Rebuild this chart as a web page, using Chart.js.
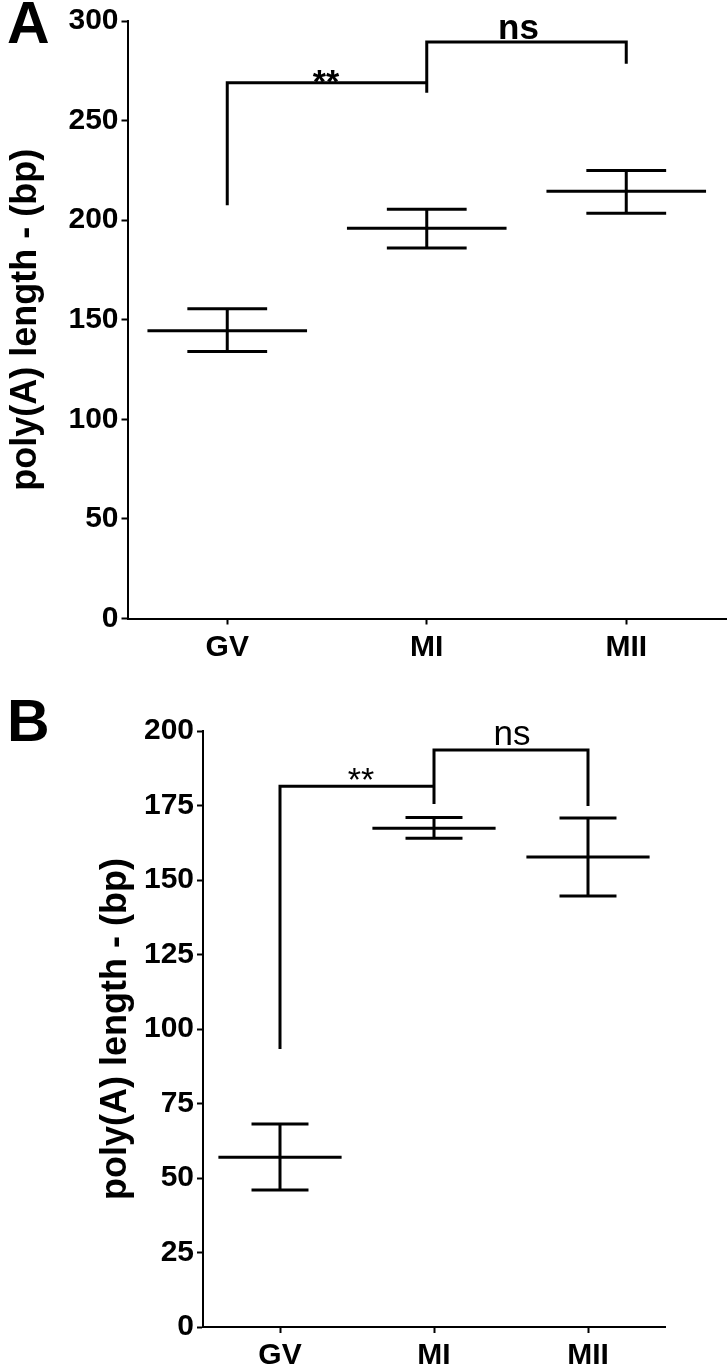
<!DOCTYPE html>
<html>
<head>
<meta charset="utf-8">
<script src="https://cdn.jsdelivr.net/npm/chart.js@4.4.1/dist/chart.umd.min.js"></script>
<style>
  html, body { margin: 0; padding: 0; background: #fff; }
  body { width: 728px; height: 1368px; position: relative; overflow: hidden; }
  canvas { position: absolute; left: 0; }
  .panel { position: absolute; font-family: 'Liberation Sans', Arial, sans-serif; font-weight: bold; font-size: 59px; line-height: 1; color: #000; }
</style>
</head>
<body>
<div class="panel" style="left:7px; top:-6px;">A</div>
<div class="panel" style="left:7px; top:692px;">B</div>
<canvas id="chartA" width="728" height="680" style="top:0px;"></canvas>
<canvas id="chartB" width="728" height="688" style="top:680px;"></canvas>
<script>
// ---------------- data ----------------
const categories = ['GV', 'MI', 'MII'];
const yTitle = 'poly(A) length - (bp)';

// Panel A
const meanA  = [144.5, 196.0, 214.5];
const upperA = [155.5, 205.5, 225.0];
const lowerA = [134.0, 186.0, 203.5];
const yTicksA = { min: 0, max: 300, step: 50 };
// brackets
const bracketFromA  = [0, 1];
const bracketToA    = [1, 2];
const bracketLevelA = [269, 289.5];
const footFromA     = [207.5, 264];
const footToA       = [264, 278.5];
const bracketTextA  = ['**', 'ns'];

// Panel B
const meanB  = [57.0, 167.4, 157.7];
const upperB = [68.1, 171.0, 170.8];
const lowerB = [46.0, 164.0, 144.6];
const yTicksB = { min: 0, max: 200, step: 25 };
const bracketFromB  = [0, 1];
const bracketToB    = [1, 2];
const bracketLevelB = [181.5, 193.6];
const footFromB     = [93.3, 175.5];
const footToB       = [175.5, 174.8];
const bracketTextB  = ['**', 'ns'];

// ---------------- helpers ----------------
const FONT = "'Liberation Sans', Arial, sans-serif";

function hSegments(values, half) {
  const pts = [];
  values.forEach((v, i) => {
    pts.push({ x: i - half, y: v }, { x: i + half, y: v }, { x: i, y: null });
  });
  return pts;
}
function vSegments(lo, hi) {
  const pts = [];
  lo.forEach((v, i) => {
    pts.push({ x: i, y: v }, { x: i, y: hi[i] }, { x: i + 0.5, y: null });
  });
  return pts;
}
function brackets(from, to, level, fa, fb) {
  const pts = [];
  from.forEach((a, k) => {
    const b = to[k];
    pts.push({ x: a, y: fa[k] }, { x: a, y: level[k] }, { x: b, y: level[k] }, { x: b, y: fb[k] }, { x: b + 0.1, y: null });
  });
  return pts;
}
function ds(data, width) {
  return {
    data, showLine: true, borderColor: '#000', backgroundColor: '#000',
    borderWidth: width, pointRadius: 0, pointHoverRadius: 0,
    spanGaps: false, borderCapStyle: 'butt', borderJoinStyle: 'miter', clip: false, tension: 0
  };
}

const textPlugin = {
  id: 'bracketText',
  afterDatasetsDraw(chart, args, opts) {
    const ctx = chart.ctx, xs = chart.scales.x, ys = chart.scales.y;
    ctx.save();
    ctx.fillStyle = '#000';
    ctx.textAlign = 'center';
    ctx.textBaseline = 'alphabetic';
    opts.texts.forEach((t, k) => {
      const st = opts.styles[k];
      ctx.font = st.font;
      const x = xs.getPixelForValue((opts.from[k] + opts.to[k]) / 2) + st.dx;
      const y = ys.getPixelForValue(opts.level[k]) + st.dy;
      ctx.fillText(t, x, y);
    });
    ctx.restore();
  }
};

function makeChart(id, p) {
  return new Chart(document.getElementById(id), {
    type: 'scatter',
    data: {
      datasets: [
        ds(hSegments(p.mean, 0.4), 3),
        ds(hSegments(p.upper, p.cap), 3),
        ds(hSegments(p.lower, p.cap), 3),
        ds(vSegments(p.lower, p.upper), 3),
        ds(brackets(p.bFrom, p.bTo, p.bLevel, p.fFrom, p.fTo), 3)
      ]
    },
    plugins: [textPlugin],
    options: {
      responsive: false,
      animation: false,
      devicePixelRatio: 1,
      events: [],
      layout: { padding: p.padding },
      plugins: {
        legend: { display: false },
        tooltip: { enabled: false },
        bracketText: { texts: p.texts, from: p.bFrom, to: p.bTo, level: p.bLevel, styles: p.textStyles }
      },
      scales: {
        x: {
          type: 'linear', min: -0.5, max: categories.length - 0.5,
          afterBuildTicks: s => { s.ticks = categories.map((c, i) => ({ value: i })); },
          afterFit: s => { s.height = p.xHeight; },
          ticks: {
            callback: v => categories[v] ?? '',
            color: '#000', padding: 5, maxRotation: 0, autoSkip: false,
            font: { family: FONT, size: 30, weight: 'bold' }
          },
          grid: { display: true, drawOnChartArea: false, drawTicks: true, tickLength: 6, tickWidth: 2, tickColor: '#000', color: '#000' },
          border: { display: true, color: '#000', width: 2 }
        },
        y: {
          min: p.yt.min, max: p.yt.max,
          afterFit: s => { s.width = p.yWidth; },
          ticks: {
            stepSize: p.yt.step, color: '#000', padding: 3,
            font: { family: FONT, size: 30, weight: 'bold' }
          },
          grid: { display: true, drawOnChartArea: false, drawTicks: true, tickLength: 6, tickWidth: 2, tickColor: '#000', color: '#000' },
          border: { display: true, color: '#000', width: 2 },
          title: {
            display: true, text: yTitle, color: '#000',
            font: { family: FONT, size: 36, weight: 'bold' },
            padding: { top: p.titlePad, bottom: 0 }
          }
        }
      }
    }
  });
}

makeChart('chartA', {
  mean: meanA, upper: upperA, lower: lowerA, cap: 0.2, yt: yTicksA,
  bFrom: bracketFromA, bTo: bracketToA, bLevel: bracketLevelA, fFrom: footFromA, fTo: footToA,
  texts: bracketTextA,
  textStyles: [
    { font: 'bold 34px ' + FONT, dx: -1, dy: 10 },
    { font: 'bold 35px ' + FONT, dx: -8, dy: -3 }
  ],
  padding: { left: 0, top: 21, right: 2, bottom: 0 },
  yWidth: 127.5, xHeight: 61.5, titlePad: 4
});

makeChart('chartB', {
  mean: meanB, upper: upperB, lower: lowerB, cap: 0.185, yt: yTicksB,
  bFrom: bracketFromB, bTo: bracketToB, bLevel: bracketLevelB, fFrom: footFromB, fTo: footToB,
  texts: bracketTextB,
  textStyles: [
    { font: '34px ' + FONT, dx: 4, dy: 5 },
    { font: '35px ' + FONT, dx: 1, dy: -5 }
  ],
  padding: { left: 86, top: 51, right: 63, bottom: 0 },
  yWidth: 117, xHeight: 41, titlePad: 8
});
</script>
</body>
</html>
